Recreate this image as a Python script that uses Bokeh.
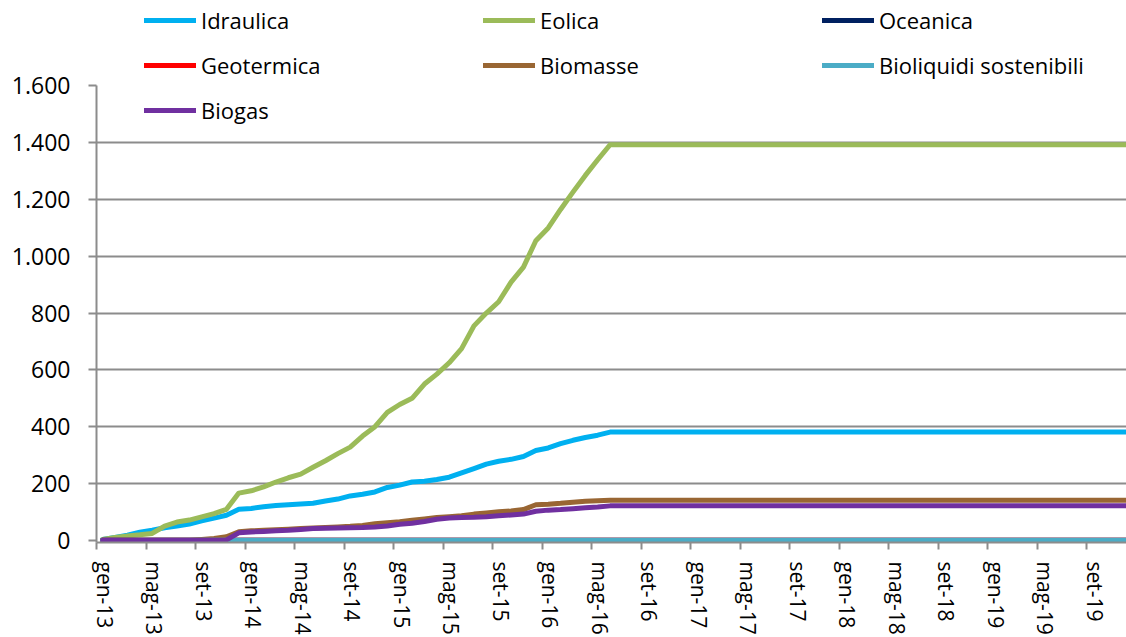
from bokeh.plotting import figure
from bokeh.models import Range1d, FixedTicker, Legend, LegendItem
from bokeh.embed import file_html
from bokeh.resources import INLINE

# ---------------- data ----------------
MONTH_NAMES = ["gen", "feb", "mar", "apr", "mag", "giu", "lug", "ago", "set", "ott", "nov", "dic"]
YEARS = ["13", "14", "15", "16", "17", "18", "19"]
categories = [f"{m}-{y}" for y in YEARS for m in MONTH_NAMES]

idraulica = [
    3, 10, 18, 28, 35, 44, 50, 57, 68, 78, 88, 109,
    112, 118, 122, 125, 128, 130, 138, 145, 156, 162, 170, 186,
    194, 205, 208, 214, 222, 237, 252, 268, 278, 285, 295, 316,
    325, 340, 352, 362, 370, 381, 381, 381, 381, 381, 381, 381,
    381, 381, 381, 381, 381, 381, 381, 381, 381, 381, 381, 381,
    381, 381, 381, 381, 381, 381, 381, 381, 381, 381, 381, 381,
    381, 381, 381, 381, 381, 381, 381, 381, 381, 381, 381, 381,
]
eolica = [
    3, 10, 15, 19, 24, 50, 64, 71, 82, 94, 109, 166,
    174, 188, 205, 220, 233, 257, 280, 305, 328, 367, 400, 450,
    478, 500, 550, 585, 625, 675, 755, 800, 840, 909, 962, 1055,
    1100, 1165, 1226, 1285, 1340, 1393, 1393, 1393, 1393, 1393, 1393, 1393,
    1393, 1393, 1393, 1393, 1393, 1393, 1393, 1393, 1393, 1393, 1393, 1393,
    1393, 1393, 1393, 1393, 1393, 1393, 1393, 1393, 1393, 1393, 1393, 1393,
    1393, 1393, 1393, 1393, 1393, 1393, 1393, 1393, 1393, 1393, 1393, 1393,
]
oceanica = [0] * len(categories)
geotermica = [0] * len(categories)
biomasse = [
    0, 0, 0, 0, 0, 0, 0, 0, 3, 6, 12, 30,
    33, 35, 37, 39, 41, 43, 45, 47, 49, 52, 58, 62,
    65, 70, 75, 80, 83, 86, 92, 96, 100, 103, 108, 125,
    127, 130, 134, 137, 139, 141, 141, 141, 141, 141, 141, 141,
    141, 141, 141, 141, 141, 141, 141, 141, 141, 141, 141, 141,
    141, 141, 141, 141, 141, 141, 141, 141, 141, 141, 141, 141,
    141, 141, 141, 141, 141, 141, 141, 141, 141, 141, 141, 141,
]
bioliquidi = [0] * len(categories)
biogas = [
    0, 0, 0, 0, 0, 0, 0, 0, 0, 0, 1, 26,
    29, 31, 33, 35, 38, 41, 42, 43, 44, 45, 47, 50,
    56, 60, 66, 74, 78, 80, 81, 83, 86, 89, 92, 102,
    106, 108, 111, 114, 117, 121, 121, 121, 121, 121, 121, 121,
    121, 121, 121, 121, 121, 121, 121, 121, 121, 121, 121, 121,
    121, 121, 121, 121, 121, 121, 121, 121, 121, 121, 121, 121,
    121, 121, 121, 121, 121, 121, 121, 121, 121, 121, 121, 121,
]

series_names = ["Idraulica", "Eolica", "Oceanica", "Geotermica", "Biomasse",
                "Bioliquidi sostenibili", "Biogas"]
series_values = [idraulica, eolica, oceanica, geotermica, biomasse, bioliquidi, biogas]
series_colors = ["#00B0F0", "#9BBB59", "#002060", "#FF0000", "#996633", "#4BACC6", "#7030A0"]

y_ticks = [0, 200, 400, 600, 800, 1000, 1200, 1400, 1600]
label_step = 4

# ---------------- figure ----------------
x = list(range(len(categories)))
FONT = "Open Sans"
GRAY = "#8C8C8C"
Y_MIN, Y_TOP = -8, 1901   # frame extends up to the top of the canvas (legend area)

p = figure(width=1126, height=637,
           x_range=Range1d(-0.5, 82.73), y_range=Range1d(Y_MIN, Y_TOP),
           output_backend="svg", toolbar_location=None,
           min_border_left=96, min_border_right=0, min_border_top=0, min_border_bottom=95)
p.outline_line_color = None
p.background_fill_color = "white"
p.xgrid.visible = False
p.ygrid.ticker = FixedTicker(ticks=y_ticks[1:-1])
p.ygrid.grid_line_color = GRAY
p.ygrid.grid_line_width = 2

# y axis
yax = p.yaxis[0]
yax.ticker = FixedTicker(ticks=y_ticks)
yax.bounds = (Y_MIN, y_ticks[-1])
yax.major_label_overrides = {v: f"{v:,}".replace(",", ".") for v in y_ticks}
yax.axis_line_color = GRAY
yax.axis_line_width = 2
yax.major_tick_line_color = GRAY
yax.major_tick_line_width = 2
yax.major_tick_out = 8
yax.major_tick_in = 0
yax.minor_tick_line_color = None
yax.major_label_standoff = 18
yax.major_label_text_font = FONT
yax.major_label_text_font_size = "23px"
yax.major_label_text_color = "black"

# x axis: labels near category centres (major), tick marks at category boundaries (minor)
label_idx = list(range(0, len(categories), label_step))
lab_ticks = [k + 0.15 for k in label_idx]
xax = p.xaxis[0]
xax.ticker = FixedTicker(ticks=lab_ticks, minor_ticks=[k - 0.5 for k in label_idx])
xax.major_label_overrides = {t: categories[k] for t, k in zip(lab_ticks, label_idx)}
xax.major_label_orientation = "vertical"
xax.major_label_standoff = 12
xax.major_label_text_font = FONT
xax.major_label_text_font_size = "21px"
xax.major_label_text_color = "black"
xax.axis_line_color = GRAY
xax.axis_line_width = 2
xax.major_tick_line_color = None
xax.major_tick_out = 0
xax.major_tick_in = 0
xax.minor_tick_line_color = GRAY
xax.minor_tick_line_width = 2
xax.minor_tick_out = 7
xax.minor_tick_in = 0

# lines
renderers = []
for name, vals, col in zip(series_names, series_values, series_colors):
    r = p.line(x, vals, line_color=col, line_width=5, line_cap="round", line_join="round")
    renderers.append(r)

legend = Legend(items=[LegendItem(label=n, renderers=[r]) for n, r in zip(series_names, renderers)],
                location=(48, 417), orientation="horizontal", ncols=3,
                glyph_width=52, glyph_height=30, label_height=30, label_width=267,
                label_standoff=5, spacing=15, padding=0, margin=0,
                border_line_color=None, background_fill_alpha=0,
                label_text_font=FONT, label_text_font_size="22px", label_text_color="black")
p.add_layout(legend)

open("out.html", "w").write(file_html(p, INLINE))
